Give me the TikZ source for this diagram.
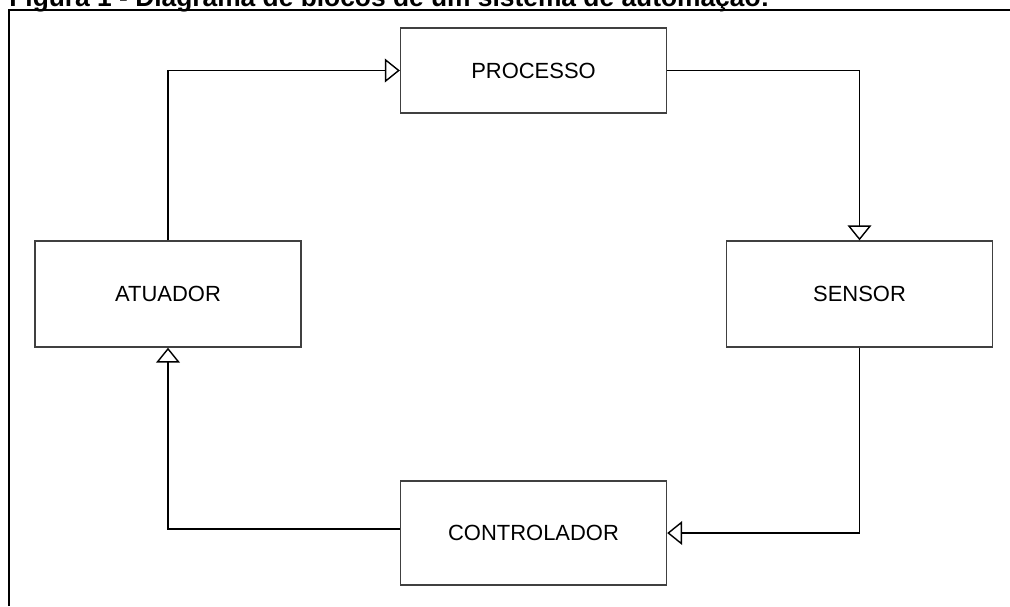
\documentclass[tikz,border=0pt]{standalone}
\usepackage{fontspec}
\setmainfont{Liberation Sans}
\usetikzlibrary{arrows.meta}
\begin{document}
\begin{tikzpicture}[x=0.02cm, y=-0.02cm, >={Triangle[open, length=8.5pt, width=13.5pt, line width=0.8pt]},
  every node/.style={font=\fontsize{12.5}{15}\selectfont},
  bloco/.style={draw=black!75, line width=0.8pt, minimum width=5.32cm, inner sep=0pt}]
  \useasboundingbox (0, 0) rectangle (1010, 606);
  % moldura e titulo
  \node[anchor=base west, inner sep=0pt, font=\bfseries\fontsize{15}{18}\selectfont] (titulo) at (9, 6) {Figura 1 - Diagrama de blocos de um sistema de automação:};
  \draw[line width=1.1pt] (9, 606) -- (9, 10) -- (1010, 10);
  % blocos
  \node[bloco, minimum height=1.7cm] (processo) at (533.5, 70.5) {PROCESSO};
  \node[bloco, minimum height=2.12cm] (atuador) at (168, 294) {ATUADOR};
  \node[bloco, minimum height=2.12cm] (sensor) at (859.5, 294) {SENSOR};
  \node[bloco, minimum height=2.08cm] (controlador) at (533.5, 533) {CONTROLADOR};
  % ligacoes
  \draw[->, line width=0.7pt] (atuador.north) |- (processo.west);
  \draw[->, line width=0.7pt] (processo.east) -| (sensor.north);
  \draw[->, line width=0.7pt] (sensor.south) |- (controlador.east);
  \draw[->, line width=0.7pt] ([yshift=2.3pt]controlador.west) -| (atuador.south);
\end{tikzpicture}
\end{document}
